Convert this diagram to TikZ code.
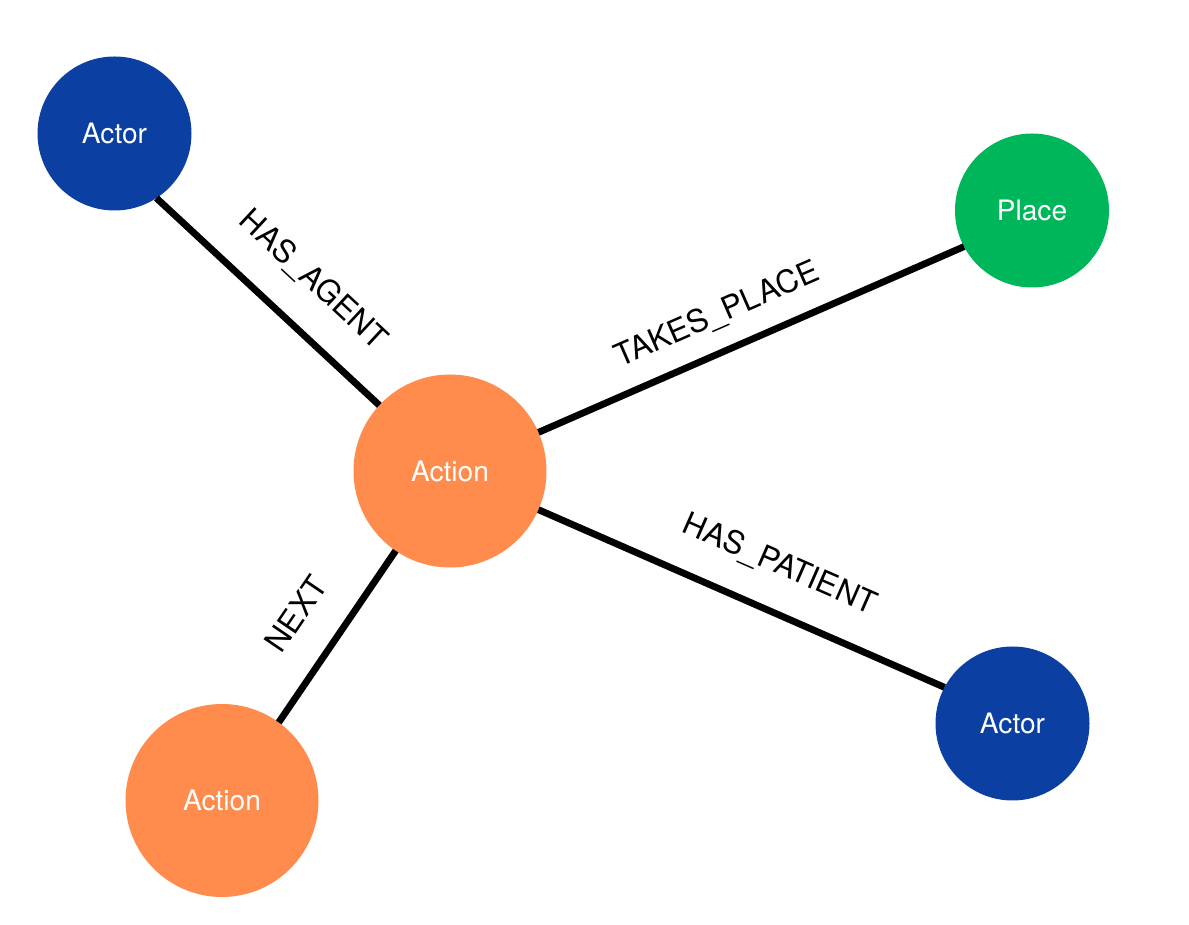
\documentclass[tikz,border=0pt]{standalone}
\usepackage{fontspec}
\setmainfont{TeX Gyre Heros}
\usetikzlibrary{positioning}
\definecolor{actorblue}{RGB}{11,63,162}
\definecolor{placegreen}{RGB}{0,182,90}
\definecolor{actorange}{RGB}{255,139,77}
\tikzset{
  gnode/.style={circle, inner sep=0pt, outer sep=0pt, text=white,
                font=\fontsize{16}{18}\selectfont},
  actor/.style={gnode, fill=actorblue, minimum size=3.08cm},
  place/.style={gnode, fill=placegreen, minimum size=3.08cm},
  action/.style={gnode, fill=actorange, minimum size=3.86cm},
  rel/.style={black, line width=3.9pt},
  rlab/.style={font=\fontsize{17.8}{20}\selectfont, inner sep=0pt,
               text depth=0pt, sloped},
}

\begin{document}
\begin{tikzpicture}
    \useasboundingbox (0,0) rectangle (23.78,18.5);
    \node[action] (act) at (9.00,9.08) {Action};
    \node[actor] (agent) at (2.29,15.83) {Actor};
    \node[place] (where) at (20.64,14.29) {Place};
    \node[actor] (patient) at (20.25,4.03) {Actor};
    \node[action] (nextact) at (4.44,2.49) {Action};
    \draw[rel] (agent.-57) -- (act)
      node[rlab, pos=0.561, above=0.68cm] {HAS\_AGENT};
    \draw[rel] (act) -- (where.208)
      node[rlab, pos=0.454, above=0.47cm] {TAKES\_PLACE};
    \draw[rel] (act) -- (patient.152)
      node[rlab, pos=0.548, above=0.67cm] {HAS\_PATIENT};
    \draw[rel] (nextact.54) -- (act)
      node[rlab, pos=0.479, above=0.64cm] {NEXT};
  \end{tikzpicture}
\end{document}
